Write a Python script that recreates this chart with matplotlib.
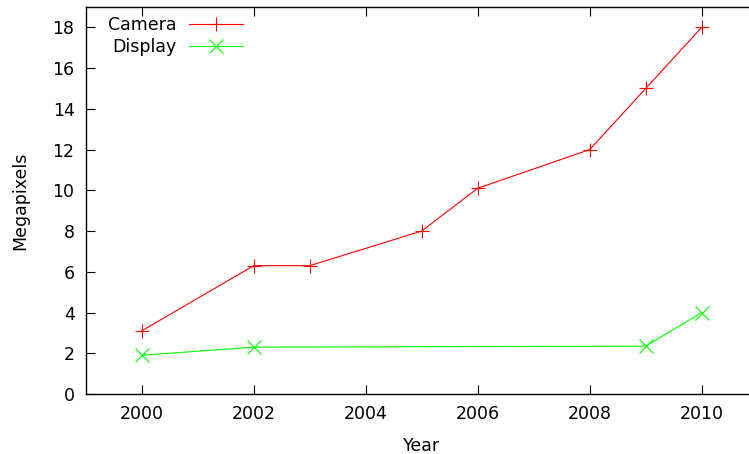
import matplotlib
matplotlib.use("Agg")
import matplotlib.pyplot as plt

# data
camera_years = [2000, 2002, 2003, 2005, 2006, 2008, 2009, 2010]
camera_mp = [3.1, 6.3, 6.3, 8.0, 10.1, 12, 15, 18]
display_years = [2000, 2002, 2009, 2010]
display_mp = [1.9, 2.3, 2.35, 4.0]
xtick_vals = [2000, 2002, 2004, 2006, 2008, 2010]
ytick_vals = list(range(0, 19, 2))

plt.rcParams['font.family'] = ['DejaVu Sans']
fs = 12.5

fig = plt.figure(figsize=(7.49, 4.54), dpi=100)
# gnuplot-like frame; right border falls just outside the picture
ax = fig.add_axes([85.7 / 749, 60 / 454, 672 / 749, 387 / 454])

ax.plot(camera_years, camera_mp, color='#ff0000', lw=0.8, marker='+',
        markersize=10, markeredgewidth=0.8, label='Camera')
ax.plot(display_years, display_mp, color='#00ff00', lw=0.8, marker='x',
        markersize=10, markeredgewidth=0.8, label='Display')

ax.set_xlim(1999, 2011)
ax.set_ylim(0, 19)
ax.set_xticks(xtick_vals)
ax.set_yticks(ytick_vals)
ax.tick_params(direction='in', length=6.5, width=0.8, top=True, right=True,
               labelsize=fs, pad=8)
for sp in ax.spines.values():
    sp.set_linewidth(1.0)

ax.set_xlabel('Year', fontsize=fs, labelpad=10)
ax.set_ylabel('Megapixels', fontsize=fs, labelpad=17)

ax.legend(loc='upper left', bbox_to_anchor=(0.013, 1.012), frameon=False,
          markerfirst=False, handlelength=3.1, handletextpad=0.7,
          labelspacing=0.2, borderaxespad=0.4, fontsize=fs)

fig.savefig('out.png', dpi=100)
